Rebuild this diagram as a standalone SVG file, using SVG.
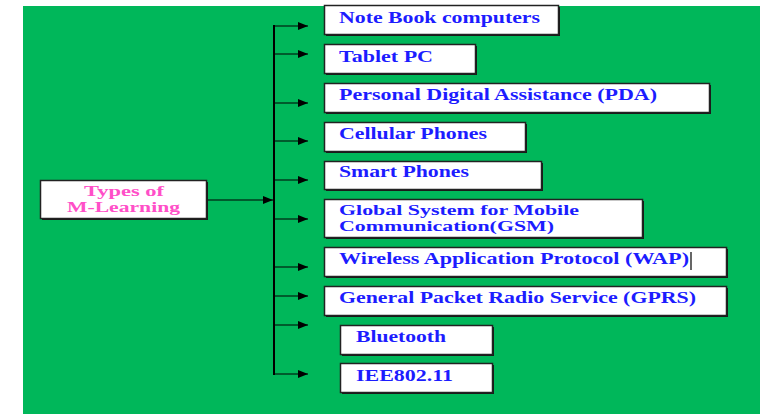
<svg xmlns="http://www.w3.org/2000/svg" width="760" height="414" viewBox="0 0 760 414">
<defs>
<style>
.box{fill:#fff;stroke:#222;stroke-width:1.5}
.sh{fill:#1a1a1a}
.t{font-family:"Liberation Serif","Times New Roman",serif;font-weight:bold;font-size:16px;fill:#1c1cff}
.t2{font-size:14px}
.p{font-family:"Liberation Serif","Times New Roman",serif;font-weight:bold;font-size:14px;fill:#ff4fc8}
.ln{stroke:#000;fill:none}
</style>
<marker id="ah" viewBox="0 0 10 8" refX="10" refY="4" markerWidth="10" markerHeight="8" markerUnits="userSpaceOnUse" orient="auto">
<path d="M0,0 L10,4 L0,8 Z" fill="#000"/>
</marker>
</defs>
<rect x="23" y="6" width="737" height="408" fill="#00b75a"/>
<g id="connectors">
<line class="ln" x1="207" y1="200" x2="273" y2="200" stroke-width="1.2" marker-end="url(#ah)"/>
<line class="ln" x1="274" y1="25" x2="274" y2="375" stroke-width="2"/>
<line class="ln" x1="274" y1="26" x2="308" y2="26" stroke-width="1.2" marker-end="url(#ah)"/>
<line class="ln" x1="274" y1="54" x2="308" y2="54" stroke-width="1.2" marker-end="url(#ah)"/>
<line class="ln" x1="274" y1="103" x2="308" y2="103" stroke-width="1.2" marker-end="url(#ah)"/>
<line class="ln" x1="274" y1="141" x2="308" y2="141" stroke-width="1.2" marker-end="url(#ah)"/>
<line class="ln" x1="274" y1="180" x2="308" y2="180" stroke-width="1.2" marker-end="url(#ah)"/>
<line class="ln" x1="274" y1="219" x2="308" y2="219" stroke-width="1.2" marker-end="url(#ah)"/>
<line class="ln" x1="274" y1="267" x2="308" y2="267" stroke-width="1.2" marker-end="url(#ah)"/>
<line class="ln" x1="274" y1="296" x2="308" y2="296" stroke-width="1.2" marker-end="url(#ah)"/>
<line class="ln" x1="274" y1="325" x2="308" y2="325" stroke-width="1.2" marker-end="url(#ah)"/>
<line class="ln" x1="274" y1="374" x2="308" y2="374" stroke-width="1.2" marker-end="url(#ah)"/>
</g>
<g id="root">
<rect class="sh" x="42" y="182" width="166" height="38"/>
<rect class="box" x="40.5" y="180.5" width="166" height="38"/>
<text class="p" x="84" y="196" textLength="80" lengthAdjust="spacingAndGlyphs">Types of</text>
<text class="p" x="67" y="212" textLength="113" lengthAdjust="spacingAndGlyphs">M-Learning</text>
</g>
<g id="n1">
<rect class="sh" x="326" y="7" width="234" height="29"/>
<rect class="box" x="324.5" y="5.5" width="234" height="29"/>
<text class="t" x="339" y="23" textLength="201" lengthAdjust="spacingAndGlyphs">Note Book computers</text>
</g>
<g id="n2">
<rect class="sh" x="326" y="46" width="151" height="29"/>
<rect class="box" x="324.5" y="44.5" width="151" height="29"/>
<text class="t" x="339" y="62" textLength="94" lengthAdjust="spacingAndGlyphs">Tablet PC</text>
</g>
<g id="n3">
<rect class="sh" x="326" y="85" width="385" height="29"/>
<rect class="box" x="324.5" y="83.5" width="385" height="29"/>
<text class="t" x="339" y="100" textLength="318" lengthAdjust="spacingAndGlyphs">Personal Digital Assistance (PDA)</text>
</g>
<g id="n4">
<rect class="sh" x="326" y="124" width="201" height="29"/>
<rect class="box" x="324.5" y="122.5" width="201" height="29"/>
<text class="t" x="339" y="139" textLength="148" lengthAdjust="spacingAndGlyphs">Cellular Phones</text>
</g>
<g id="n5">
<rect class="sh" x="326" y="163" width="217" height="28"/>
<rect class="box" x="324.5" y="161.5" width="217" height="28"/>
<text class="t" x="339" y="177" textLength="130" lengthAdjust="spacingAndGlyphs">Smart Phones</text>
</g>
<g id="n6">
<rect class="sh" x="326" y="201" width="318" height="38"/>
<rect class="box" x="324.5" y="199.5" width="318" height="38"/>
<text class="t t2" x="339" y="215" textLength="240" lengthAdjust="spacingAndGlyphs">Global System for Mobile</text>
<text class="t t2" x="339" y="231" textLength="215" lengthAdjust="spacingAndGlyphs">Communication(GSM)</text>
</g>
<g id="n7">
<rect class="sh" x="326" y="249" width="402" height="29"/>
<rect class="box" x="324.5" y="247.5" width="402" height="29"/>
<text class="t" x="339" y="264" textLength="350" lengthAdjust="spacingAndGlyphs">Wireless Application Protocol (WAP)</text>
<line x1="691" y1="252" x2="691" y2="270" stroke="#000" stroke-width="1.2"/>
</g>
<g id="n8">
<rect class="sh" x="326" y="288" width="402" height="29"/>
<rect class="box" x="324.5" y="286.5" width="402" height="29"/>
<text class="t" x="339" y="303" textLength="357" lengthAdjust="spacingAndGlyphs">General Packet Radio Service (GPRS)</text>
</g>
<g id="n9">
<rect class="sh" x="342" y="327" width="152" height="29"/>
<rect class="box" x="340.5" y="325.5" width="152" height="29"/>
<text class="t" x="356" y="342" textLength="90" lengthAdjust="spacingAndGlyphs">Bluetooth</text>
</g>
<g id="n10">
<rect class="sh" x="342" y="365" width="152" height="29"/>
<rect class="box" x="340.5" y="363.5" width="152" height="29"/>
<text class="t" x="356" y="381" textLength="97" lengthAdjust="spacingAndGlyphs">IEE802.11</text>
</g>
</svg>
